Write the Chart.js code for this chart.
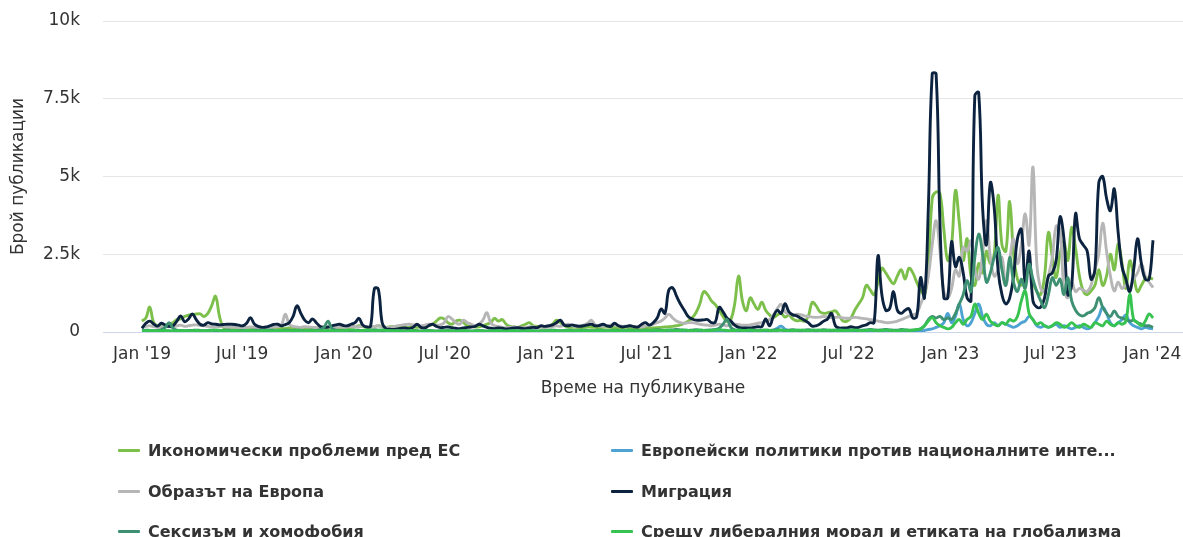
<!DOCTYPE html>
<html>
<head>
<meta charset="utf-8">
<script src="https://cdn.jsdelivr.net/npm/chart.js@4.4.1/dist/chart.umd.min.js"></script>
<style>
  html, body { margin: 0; padding: 0; background: #ffffff; }
  #wrap { position: relative; width: 1183px; height: 537px; }
  #legend { position: absolute; left: 0; top: 0; width: 1183px; height: 537px; pointer-events: none;
            font: bold 16px "DejaVu Sans", sans-serif; color: #333333; }
  .item { position: absolute; height: 20px; display: flex; align-items: center; white-space: nowrap; }
  .swatch { width: 22px; height: 3px; margin-right: 8px; border-radius: 1px; }
</style>
</head>
<body>
<div id="wrap">
  <canvas id="chart" width="1183" height="537"></canvas>
  <div id="legend"></div>
</div>
<script>
// Weekly series, week 0 = first week of Jan 2019
const startDate = '2019-01-01';

const xTickDates = ['2019-01-01', '2019-07-01', '2020-01-01', '2020-07-01', '2021-01-01', '2021-07-01',
                    '2022-01-01', '2022-07-01', '2023-01-01', '2023-07-01', '2024-01-01'];
const xTickLabels = ["Jan '19", "Jul '19", "Jan '20", "Jul '20", "Jan '21", "Jul '21",
                     "Jan '22", "Jul '22", "Jan '23", "Jul '23", "Jan '24"];
const yTickValues = [0, 2500, 5000, 7500, 10000];
const yTickLabels = ['0', '2.5k', '5k', '7.5k', '10k'];

const seriesNames = [
    'Икономически проблеми пред ЕС',
    'Европейски политики против националните инте...',
    'Образът на Европа',
    'Миграция',
    'Сексизъм и хомофобия',
    'Срещу либералния морал и етиката на глобализма'
];
const seriesColors = ['#7cbf4a', '#4ea3d3', '#b6b6b6', '#0c2340', '#3d9071', '#36c34f'];

// Икономически проблеми пред ЕС
const economy = [
    350, 450, 800, 300, 200, 200, 220, 250, 300, 400, 420, 500, 540,
    560, 580, 580, 500, 600, 850, 1150, 500, 150, 120, 150, 130, 120,
    120, 130, 110, 120, 140, 150, 120, 110, 130, 140, 120, 110, 130,
    120, 110, 130, 120, 140, 130, 120, 140, 130, 120, 150, 130, 140,
    140, 130, 150, 170, 200, 180, 150, 160, 180, 200, 180, 150, 170,
    170, 160, 150, 140, 150, 160, 150, 170, 180, 200, 250, 350, 450,
    420, 300, 250, 350, 380, 300, 200, 180, 160, 170, 200, 250, 300,
    440, 350, 400, 250, 180, 160, 150, 200, 250, 300, 200, 180, 160,
    150, 180, 250, 380, 300, 200, 160, 150, 150, 140, 150, 160, 150,
    150, 140, 150, 160, 150, 140, 130, 140, 150, 130, 120, 110, 120,
    140, 130, 130, 140, 150, 160, 170, 180, 200, 230, 280, 350, 450,
    620, 900, 1300, 1200, 1000, 880, 700, 500, 340, 400, 900, 1800, 1000,
    680, 1100, 900, 730, 960, 700, 550, 460, 550, 600, 480, 550, 420,
    360, 380, 350, 500, 950, 850, 650, 600, 620, 650, 680, 520, 350,
    350, 450, 700, 900, 1100, 1500, 1350, 1200, 1600, 2050, 1900, 1700, 1550,
    1800, 2000, 1700, 2050, 1900, 1600, 1350, 1200, 2000, 4300, 4500, 4450, 3300,
    2300, 2800, 4550, 3500, 2300, 3000, 1800, 1500, 2200, 1900, 2600, 2200, 2500,
    4400, 2800, 2600, 4200, 2500, 1700, 1500, 1800, 2000, 1600, 1300, 1200, 1800,
    3200, 2400, 1750, 2500, 2900, 2300, 3360, 2700, 1800, 1320, 1200, 1320, 1500,
    2000, 1500, 1800, 2500, 2000, 2830, 2200, 1400, 2290, 1800, 1300, 1500, 1700,
    1750, 1700
];

// Европейски политики против националните интереси
const policies = [
    20, 25, 30, 20, 15, 20, 25, 30, 20, 25, 20, 15, 20,
    25, 30, 25, 20, 15, 20, 25, 20, 15, 20, 25, 20, 15,
    20, 25, 20, 15, 20, 25, 30, 25, 20, 15, 20, 25, 20,
    15, 20, 25, 20, 15, 20, 25, 30, 25, 20, 15, 20, 25,
    20, 25, 30, 25, 20, 25, 30, 35, 30, 25, 20, 15, 20,
    15, 20, 15, 10, 15, 20, 15, 10, 15, 20, 15, 10, 15,
    15, 20, 15, 10, 15, 20, 15, 10, 15, 20, 15, 10, 15,
    15, 20, 15, 10, 15, 20, 15, 10, 15, 20, 15, 10, 15,
    15, 20, 25, 20, 15, 20, 25, 20, 15, 20, 25, 20, 15,
    20, 25, 20, 15, 20, 25, 20, 15, 20, 25, 20, 15, 20,
    25, 20, 25, 30, 25, 20, 25, 30, 25, 20, 25, 30, 25,
    30, 25, 20, 25, 30, 35, 40, 35, 30, 25, 30, 35, 30,
    25, 30, 35, 30, 25, 30, 40, 60, 120, 190, 90, 40, 30,
    30, 35, 30, 25, 30, 35, 30, 25, 30, 35, 30, 25, 30,
    30, 35, 30, 25, 30, 35, 30, 25, 30, 35, 30, 25, 30,
    20, 20, 30, 30, 20, 30, 40, 50, 80, 100, 150, 200, 300,
    600, 300, 500, 900, 400, 200, 300, 600, 900, 500, 250, 200, 300,
    200, 300, 250, 200, 150, 200, 300, 350, 500, 400, 200, 150, 200,
    150, 200, 250, 150, 200, 150, 100, 150, 200, 150, 100, 150, 300,
    500, 800, 600, 300, 200, 300, 400, 550, 300, 200, 150, 100, 150,
    120, 100
];

// Образът на Европа
const europeImage = [
    150, 180, 200, 170, 150, 160, 180, 170, 160, 200, 220, 180, 200,
    220, 230, 210, 200, 180, 170, 160, 170, 180, 160, 150, 150, 140,
    140, 150, 160, 150, 140, 130, 150, 140, 160, 170, 220, 570, 250,
    180, 160, 150, 170, 160, 150, 140, 150, 160, 150, 140, 150, 160,
    150, 160, 170, 180, 160, 200, 180, 170, 180, 200, 150, 140, 150,
    160, 200, 220, 240, 250, 230, 220, 200, 220, 250, 240, 220, 230,
    300, 500, 420, 300, 250, 380, 300, 250, 200, 250, 380, 620, 300,
    200, 180, 150, 140, 150, 160, 150, 140, 150, 160, 170, 150, 160,
    150, 160, 170, 200, 180, 220, 250, 200, 180, 200, 220, 280, 380,
    230, 200, 180, 200, 220, 230, 200, 180, 190, 200, 180, 170, 160,
    200, 220, 250, 300, 350, 450, 570, 450, 350, 300, 280, 300, 300,
    280, 250, 230, 220, 200, 220, 250, 230, 200, 220, 250, 240, 220,
    220, 230, 250, 280, 300, 350, 400, 550, 750, 890, 650, 580, 550,
    570, 560, 520, 500, 480, 470, 480, 500, 480, 460, 470, 480, 450,
    440, 450, 470, 460, 440, 420, 400, 380, 350, 330, 300, 300, 320,
    350, 400, 450, 500, 550, 600, 900, 1220, 1800, 2800, 3580, 2600, 1300,
    1100, 1400, 2000, 1800, 2720, 2600, 2930, 2000, 1700, 2500, 3580, 2400, 1800,
    2000, 2400, 1500, 2300, 3000, 2200, 2800, 3800, 2800, 5300, 2200, 1400, 1300,
    1800, 2400, 3400, 3300, 1400, 1100, 1600, 1300, 1400, 1350, 1300, 1500, 2000,
    2500, 3500, 2600, 1800, 1320, 1600, 1400, 1500, 1450, 1700, 1900, 2180, 1800,
    1600, 1430
];

// Миграция
const migration = [
    120, 280, 350, 260, 190, 280, 220, 180, 200, 350, 520, 330, 420,
    580, 400, 250, 220, 300, 260, 250, 230, 240, 250, 250, 240, 220,
    200, 280, 460, 260, 180, 150, 160, 200, 240, 250, 200, 240, 300,
    500, 840, 600, 380, 300, 420, 300, 180, 150, 160, 200, 230, 250,
    210, 200, 250, 300, 440, 220, 160, 180, 1400, 1380, 300, 100, 90,
    80, 100, 120, 130, 110, 150, 250, 150, 130, 200, 250, 180, 140,
    150, 160, 140, 120, 110, 130, 150, 160, 180, 250, 200, 150, 120,
    110, 130, 120, 100, 110, 130, 140, 120, 110, 130, 150, 140, 200,
    180, 200, 230, 300, 380, 220, 200, 230, 200, 180, 200, 230, 250,
    200, 210, 250, 200, 180, 280, 200, 160, 180, 200, 170, 160, 250,
    300, 220, 300, 450, 740, 600, 1350, 1420, 1150, 900, 700, 500, 420,
    380, 380, 390, 400, 300, 320, 790, 650, 450, 350, 220, 150, 130,
    130, 130, 150, 170, 170, 420, 200, 500, 700, 600, 910, 650, 550,
    520, 450, 380, 300, 190, 200, 260, 350, 420, 600, 200, 130, 130,
    130, 170, 140, 150, 200, 230, 300, 300, 2450, 1200, 700, 750, 1300,
    700, 600, 700, 750, 450, 500, 1750, 1100, 4000, 8300, 8300, 3500, 1100,
    1100, 2900, 2100, 2400, 1900, 1100, 1000, 7600, 7700, 4000, 2800, 4800, 4000,
    2000, 1200, 900, 1100, 1800, 3000, 3300, 1600, 2600, 1000, 800, 800, 1100,
    1800, 1900, 2300, 3700, 3000, 1200, 1500, 3800, 3000, 2800, 2600, 1700, 2000,
    4800, 5000, 4300, 3900, 4600, 3200, 2100, 1700, 1300, 2000, 3000, 2200, 1700,
    1700, 2950
];

// Сексизъм и хомофобия
const sexism = [
    40, 60, 50, 40, 50, 80, 150, 300, 120, 60, 50, 40, 50,
    50, 60, 50, 40, 50, 60, 50, 40, 50, 60, 50, 40, 50,
    50, 40, 50, 60, 50, 40, 50, 60, 50, 40, 50, 60, 50,
    50, 60, 50, 40, 50, 60, 50, 80, 150, 350, 120, 60, 50,
    50, 40, 50, 60, 50, 40, 50, 60, 70, 60, 50, 40, 50,
    40, 50, 40, 30, 40, 50, 40, 30, 40, 50, 40, 30, 40,
    40, 50, 40, 30, 40, 50, 40, 30, 40, 50, 40, 30, 40,
    40, 50, 40, 30, 40, 50, 40, 30, 40, 50, 40, 30, 40,
    40, 50, 60, 50, 40, 50, 60, 50, 40, 50, 60, 50, 40,
    50, 60, 50, 40, 50, 60, 50, 40, 50, 60, 50, 40, 50,
    60, 50, 60, 70, 60, 50, 60, 70, 80, 70, 60, 50, 60,
    70, 60, 50, 60, 70, 80, 120, 250, 410, 150, 70, 60, 50,
    50, 60, 50, 40, 50, 60, 50, 60, 70, 60, 50, 60, 70,
    60, 50, 60, 70, 60, 50, 60, 70, 60, 50, 60, 70, 60,
    60, 70, 60, 50, 60, 70, 80, 70, 60, 70, 80, 70, 60,
    60, 80, 70, 60, 60, 70, 100, 200, 400, 500, 450, 500, 400,
    450, 400, 600, 900, 1200, 1650, 1300, 2400, 3150, 2500, 1600, 1900, 2400,
    2720, 2000, 1500, 2400, 1600, 1300, 1700, 1400, 2180, 1700, 1300, 1000, 780,
    1200, 1750, 1500, 1700, 1200, 1750, 1000, 700, 550, 520, 600, 650, 780,
    1100, 800, 600, 500, 680, 500, 450, 400, 350, 380, 300, 250, 200,
    200, 150
];

// Срещу либералния морал и етиката на глобализма
const liberalMoral = [
    30, 40, 50, 40, 30, 40, 50, 40, 30, 40, 50, 40, 30,
    40, 50, 40, 30, 40, 50, 60, 50, 40, 30, 40, 50, 40,
    30, 40, 50, 40, 30, 40, 50, 40, 30, 40, 50, 40, 30,
    40, 50, 40, 30, 40, 50, 40, 30, 40, 50, 40, 30, 40,
    40, 50, 60, 50, 40, 50, 60, 50, 40, 50, 60, 50, 40,
    30, 40, 30, 20, 30, 40, 30, 20, 30, 40, 30, 20, 30,
    30, 40, 30, 20, 30, 40, 30, 20, 30, 40, 30, 20, 30,
    30, 40, 30, 20, 30, 40, 30, 20, 30, 40, 30, 20, 30,
    30, 40, 50, 40, 30, 40, 50, 40, 30, 40, 50, 40, 30,
    40, 50, 40, 30, 40, 50, 40, 30, 40, 50, 40, 30, 40,
    40, 50, 60, 50, 40, 50, 60, 50, 40, 50, 60, 50, 40,
    50, 60, 50, 40, 50, 60, 70, 60, 50, 40, 50, 60, 50,
    50, 60, 50, 40, 50, 60, 50, 40, 50, 60, 50, 40, 50,
    50, 60, 50, 40, 50, 60, 50, 40, 50, 60, 50, 40, 50,
    40, 50, 60, 50, 40, 50, 60, 50, 40, 50, 60, 50, 40,
    40, 50, 60, 50, 60, 80, 100, 200, 350, 460, 300, 200, 150,
    100, 150, 300, 400, 250, 400, 500, 900, 600, 400, 570, 350, 250,
    200, 300, 250, 400, 350, 500, 1000, 1320, 600, 400, 250, 300, 200,
    150, 200, 300, 250, 150, 200, 300, 200, 150, 250, 200, 150, 300,
    250, 200, 350, 250, 200, 300, 250, 350, 1220, 400, 300, 200, 350,
    580, 450
];

const allSeries = [economy, policies, europeImage, migration, sexism, liberalMoral];

const weekMs = 7 * 24 * 3600 * 1000;
function weeksFromStart(d) {
    return (new Date(d + 'T00:00:00Z') - new Date(startDate + 'T00:00:00Z')) / weekMs;
}

const axisFont = { family: '"DejaVu Sans", sans-serif', size: 17 };

const datasets = allSeries.map((values, s) => ({
    label: seriesNames[s],
    data: values.map((v, i) => ({ x: i, y: v })),
    borderColor: seriesColors[s],
    backgroundColor: seriesColors[s],
    borderWidth: 2.9,
    pointRadius: 0,
    tension: 0.4,
    fill: false,
    order: allSeries.length - s
}));

const chart = new Chart(document.getElementById('chart').getContext('2d'), {
    type: 'line',
    data: { datasets: datasets },
    options: {
        responsive: false,
        animation: false,
        events: [],
        layout: { padding: { top: 21, bottom: 135, left: 0, right: 0 } },
        scales: {
            x: {
                type: 'linear',
                min: -10.068,
                max: 268.74,
                afterBuildTicks: axis => { axis.ticks = xTickDates.map(d => ({ value: weeksFromStart(d) })); },
                afterFit: axis => { axis.height = 70; axis.paddingLeft = 0; axis.paddingRight = 0; },
                ticks: {
                    autoSkip: false,
                    maxRotation: 0,
                    padding: 12,
                    color: '#333333',
                    font: axisFont,
                    callback: (v, idx) => xTickLabels[idx]
                },
                grid: { display: false, drawTicks: false },
                border: { display: true, color: '#ccd6eb', width: 1 },
                title: {
                    display: true,
                    text: 'Време на публикуване',
                    color: '#333333',
                    font: axisFont,
                    padding: { top: 0, bottom: 3 }
                }
            },
            y: {
                min: 0,
                max: 10000,
                afterBuildTicks: axis => { axis.ticks = yTickValues.map(v => ({ value: v })); },
                afterFit: axis => { axis.width = 103; axis.paddingTop = 10; axis.paddingBottom = 10; },
                ticks: {
                    padding: 23,
                    color: '#333333',
                    font: axisFont,
                    callback: (v, idx) => yTickLabels[idx]
                },
                grid: { color: '#e6e6e6', lineWidth: 1, drawTicks: false },
                border: { display: false },
                title: {
                    display: true,
                    text: 'Брой публикации',
                    color: '#333333',
                    font: axisFont,
                    padding: { top: 8, bottom: 0 }
                }
            }
        },
        plugins: {
            legend: { display: false },
            tooltip: { enabled: false }
        }
    }
});

// HTML legend, two columns
const legendCols = [118, 611];
const legendRows = [450, 491, 531];
const legendBox = document.getElementById('legend');
chart.data.datasets.forEach((ds, i) => {
    const item = document.createElement('div');
    item.className = 'item';
    item.style.left = legendCols[i % 2] + 'px';
    item.style.top = (legendRows[Math.floor(i / 2)] - 10) + 'px';
    const sw = document.createElement('span');
    sw.className = 'swatch';
    sw.style.background = ds.borderColor;
    const txt = document.createElement('span');
    txt.textContent = ds.label;
    item.appendChild(sw);
    item.appendChild(txt);
    legendBox.appendChild(item);
});
</script>
</body>
</html>
